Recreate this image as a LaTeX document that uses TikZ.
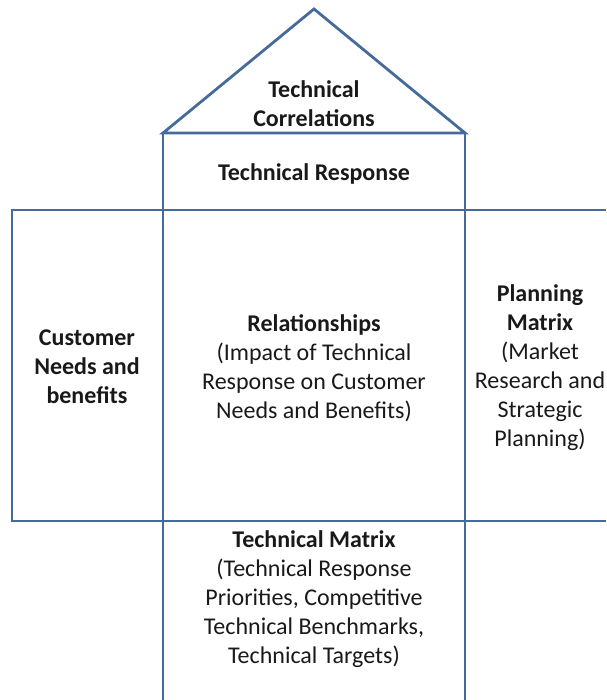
\documentclass[tikz,border=0pt]{standalone}
\usepackage{fontspec}
\setmainfont{Carlito}
\usepackage{tikz}
\usetikzlibrary{positioning, calc}
\definecolor{houseblue}{RGB}{70,106,156}
\tikzset{%
  wall/.style={draw=houseblue, line width=2.8pt},
  label/.style={align=center, font=\fontsize{24}{29}\selectfont, text=black!90, inner sep=0pt},
  boldlabel/.style={label, font=\fontsize{24}{29}\selectfont\bfseries}
}

\begin{document}
\begin{tikzpicture}[x=1pt, y=-1pt]
\useasboundingbox (0,0) rectangle (606,700);

% corners of the house
\coordinate (apex) at (314,9);
\coordinate (roofL) at (163,133);
\coordinate (roofR) at (465,133);
\coordinate (leftT) at (12,210);
\coordinate (rightT) at (606,210);
\coordinate (leftB) at (12,521);
\coordinate (rightB) at (606,521);
\coordinate (baseL) at (163,700);
\coordinate (baseR) at (465,700);

\draw[wall] (roofL) -- (apex) -- (roofR) -- cycle;
\draw[wall] (roofL) -- (baseL);
\draw[wall] (roofR) -- (baseR);
\draw[wall] (rightT) -- (leftT) -- (leftB) -- (rightB);

% texts
\node[boldlabel] (corr) at (314,104) {Technical\\Correlations};
\node[boldlabel] (resp) at (314,174) {Technical Response};
\node[boldlabel] (needs) at (87,367) {Customer\\Needs and\\benefits};
\node[label] (rel) at (314,368) {\textbf{Relationships}\\(Impact of Technical\\Response on Customer\\Needs and Benefits)};
\node[label] (plan) at (540,368) {\textbf{Planning}\\\textbf{Matrix}\\(Market\\Research and\\Strategic\\Planning)};
\node[label] (tmat) at (314,599) {\textbf{Technical Matrix}\\(Technical Response\\Priorities, Competitive\\Technical Benchmarks,\\Technical Targets)};

\end{tikzpicture}
\end{document}
